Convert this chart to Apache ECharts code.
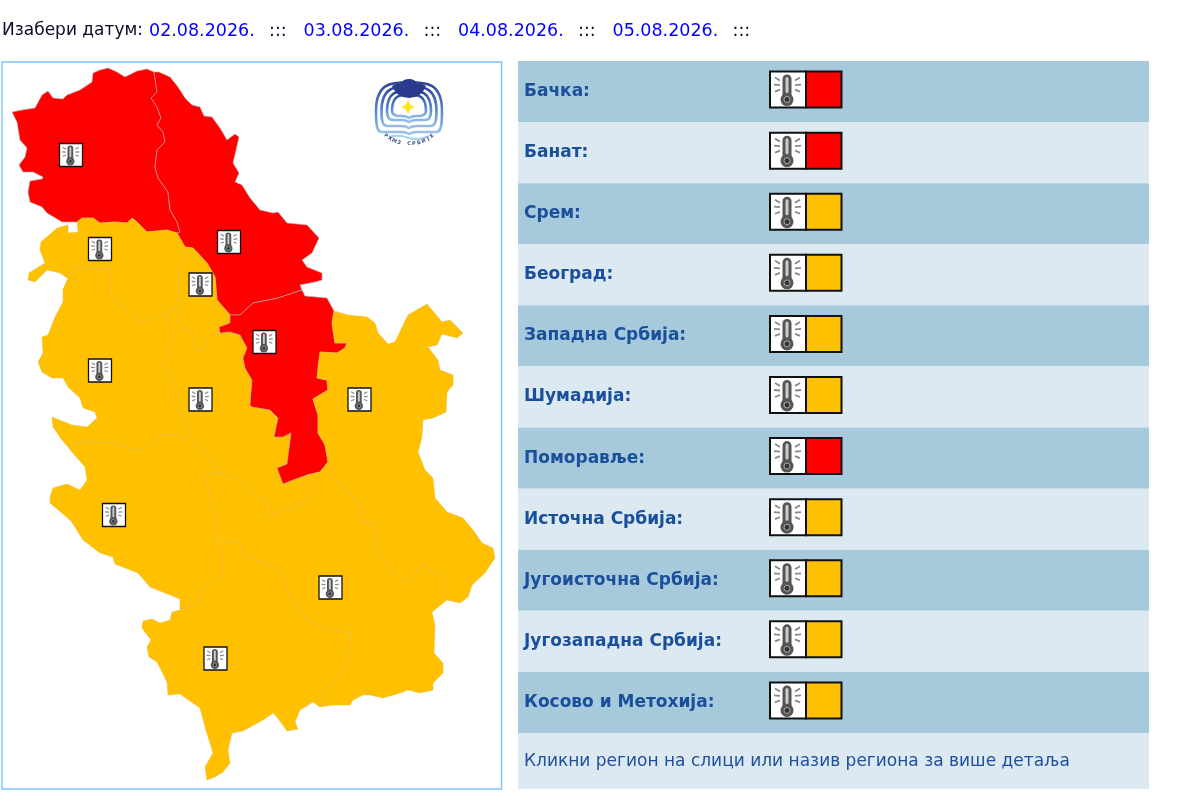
<!DOCTYPE html>
<html>
<head>
<meta charset="utf-8">
<title>Упозорења</title>
<script src="https://cdn.jsdelivr.net/npm/echarts@6/dist/echarts.min.js"></script>
<style>
  html, body { margin: 0; padding: 0; background: #fff; }
  #main { width: 1200px; height: 804px; }
</style>
</head>
<body>
<div id="main"></div>
<script>
// ---- data ----
var dateLabel = 'Изабери датум:';
var dates = ['02.08.2026.', '03.08.2026.', '04.08.2026.', '05.08.2026.'];
var footerText = 'Кликни регион на слици или назив региона за више детаља';
var regions = ['Бачка', 'Банат', 'Срем', 'Београд', 'Западна Србија', 'Шумадија', 'Поморавље', 'Источна Србија', 'Југоисточна Србија', 'Југозападна Србија', 'Косово и Метохија'];
// 3 = red, 2 = orange
var levels = [3, 3, 2, 2, 2, 2, 3, 2, 2, 2, 2];
var levelColors = { 2: '#ffc000', 3: '#ff0000' };
// where the thermometer of each region sits, in map units
var iconPoints = [[71, 155], [229, 242], [100, 249], [200.5, 284.5], [100, 370.5], [200.5, 399.5], [264.5, 342], [359.5, 399.5], [330.5, 587.5], [114, 515], [215.5, 658.5]];
var logoPoint = [[409, 108]];

// map outline, as shared border pieces (map units, y going down)
var bacOuter = [[154,72],[147,69],[137,71],[125,77],[117,72],[108,68],[100,70],[93,73],[92,82],[80,90],[67,95],[63,99],[53,98],[48,91],[42,95],[35,108],[22,110],[12,112],[17,122],[20,140],[27,148],[25,157],[19,165],[23,172],[33,172],[43,177],[42,179],[30,181],[28,192],[30,202],[42,207],[47,213],[62,222],[77,222]];
var bacBan = [[154,72],[157,92],[151,98],[157,107],[161,118],[157,125],[163,132],[165,142],[157,150],[155,167],[158,178],[168,192],[170,210],[177,222],[180,232],[177,233]];
var bacSrem = [[77,222],[82,218],[93,218],[100,223],[115,222],[127,223],[132,218],[137,222],[147,232],[167,230],[177,233]];
var banOuter = [[154,72],[159,72],[170,77],[178,87],[185,98],[192,105],[200,107],[204,116],[212,117],[220,128],[227,140],[235,134],[239,137],[233,163],[239,173],[235,182],[242,185],[250,198],[260,210],[273,213],[278,212],[287,223],[307,225],[319,238],[312,253],[302,260],[307,267],[322,273],[322,280],[315,282],[300,285],[302,290]];
var banPom = [[302,290],[278,298],[253,303],[240,315],[230,315]];
var banBeo = [[230,315],[217,300],[215,277],[207,263],[193,248],[185,247]];
var sremBan = [[185,247],[177,233]];
var pomOuter = [[302,290],[305,296],[327,298],[334,311]];
var pomIst = [[334,311],[332,323],[335,343],[347,343],[345,348],[337,353],[320,352],[317,378],[327,380],[328,390],[313,399],[318,415],[318,433],[325,445],[328,462]];
var pomJi = [[328,462],[320,472],[307,475]];
var pomSum = [[307,475],[293,480],[283,484],[277,468],[287,464],[291,433],[283,437],[274,437],[278,418],[270,410],[252,407],[250,405],[252,380],[245,368],[243,358],[247,348],[240,335],[230,332],[220,333]];
var pomBeo = [[220,333],[219,327],[230,323],[230,315]];
var istOuter = [[334,311],[348,315],[367,317],[375,323],[378,333],[388,344],[395,342],[408,315],[427,304],[442,322],[450,320],[463,333],[457,338],[442,334],[437,345],[428,347],[438,360],[440,370],[453,375],[453,385],[447,392],[446,412],[433,418],[423,420],[422,437],[418,452],[425,470],[433,478],[435,498],[447,512],[463,518],[473,530],[482,543],[493,548],[495,558],[485,573],[472,585],[468,597],[460,603],[447,600]];
var istSouth = [[328,462],[333,475],[343,487],[360,503],[360,520],[375,525],[378,553],[395,575],[407,582],[423,565],[443,578],[443,593],[447,600]];
var jiOuter = [[447,600],[432,612],[435,625],[434,653],[443,663],[443,673],[433,683],[433,690],[420,693],[408,690],[400,693],[383,698],[370,695],[363,695],[353,700],[350,705],[333,705],[320,707]];
var kosOuter = [[320,707],[313,702],[300,710],[295,722],[298,729],[287,731],[277,717],[273,713],[263,720],[243,731],[232,733],[228,750],[230,763],[223,772],[215,777],[207,780],[205,767],[213,753],[205,727],[200,708],[180,694],[168,695],[167,682],[157,662],[149,657],[147,647],[151,640],[142,628],[143,621],[152,619],[160,623],[170,620],[172,612],[180,610]];
var kosJi = [[320,707],[327,688],[347,667],[352,633],[330,630],[307,620],[292,600],[277,568],[242,555],[240,543],[217,540]];
var kosJz = [[217,540],[222,553],[223,577],[200,590],[198,605],[180,610]];
var jzOuter = [[180,610],[180,599],[150,587],[138,573],[115,564],[113,557],[100,553],[83,540],[75,527],[70,520],[50,503],[50,497],[53,488],[67,484],[80,490],[87,480],[85,467],[72,452],[68,447]];
var jzZap = [[68,447],[87,441],[113,443],[137,450],[147,448],[160,435],[173,434],[189,440]];
var jzSum = [[189,440],[207,453],[218,472]];
var jzJi = [[218,472],[203,477],[213,503],[217,540]];
var sumJi = [[218,472],[233,477],[260,497],[267,500],[268,517],[283,510],[310,500],[310,480],[307,475]];
var sumBeo = [[220,333],[207,337],[207,348],[195,350],[192,332],[177,323],[180,307]];
var sumSrem = [[180,307],[168,310]];
var zapSum = [[168,310],[172,337],[163,365],[172,383],[170,393],[180,413],[188,427],[189,440]];
var beoSrem = [[180,307],[178,290],[178,267],[187,258],[185,247]];
var sremZap = [[168,310],[160,317],[140,322],[133,313],[112,300],[110,270],[73,267],[63,290]];
var sremOuter = [[63,290],[70,280],[60,273],[47,270],[35,282],[28,280],[29,273],[45,263],[40,250],[41,242],[57,228],[68,225],[68,233],[78,232],[77,222]];
var zapOuter = [[68,447],[62,440],[53,427],[52,417],[72,425],[87,427],[97,418],[95,412],[83,408],[80,398],[68,387],[63,378],[52,378],[42,372],[38,362],[43,353],[42,337],[48,335],[55,317],[63,302],[63,290]];

function rev(a) { return a.slice().reverse(); }
var rings = [
  [bacOuter, bacSrem, rev(bacBan)],
  [banOuter, banPom, banBeo, sremBan, rev(bacBan)],
  [bacSrem, rev(sremBan), rev(beoSrem), sumSrem, sremZap, sremOuter],
  [rev(banBeo), rev(pomBeo), sumBeo, beoSrem],
  [rev(sremZap), zapSum, rev(jzZap), zapOuter],
  [jzSum, sumJi, pomSum, sumBeo, sumSrem, zapSum],
  [pomOuter, pomIst, pomJi, pomSum, pomBeo, rev(banPom)],
  [istOuter, rev(istSouth), rev(pomIst)],
  [jiOuter, kosJi, rev(jzJi), sumJi, rev(pomJi), istSouth],
  [jzOuter, jzZap, jzSum, jzJi, kosJz],
  [kosOuter, rev(kosJz), rev(kosJi)]
];

var geoJson = {
  type: 'FeatureCollection',
  features: regions.map(function (name, i) {
    var ring = [].concat.apply([], rings[i]).map(function (p) { return [p[0], -p[1]]; });
    ring.push(ring[0]);
    return { type: 'Feature', properties: { name: name }, geometry: { type: 'Polygon', coordinates: [ring] } };
  })
};
echarts.registerMap('srbija', geoJson);

// ---- thermometer icon, drawn in a 36x36 box ----
function thermometer() {
  var rays = 'M5 6L10 9M4 13L10 13.5M5 20L10 18M30 6L25 9M31 13L25 13.5M30 20L25 18';
  return [
    { type: 'rect', shape: { x: 0, y: 0, width: 36, height: 36 }, style: { fill: '#fff', stroke: '#111', lineWidth: 2 } },
    { type: 'path', shape: { pathData: rays }, style: { fill: null, stroke: '#888', lineWidth: 1.8 } },
    { type: 'rect', shape: { x: 12.5, y: 3, width: 9, height: 25, r: 4.5 }, style: { fill: '#555' } },
    { type: 'circle', shape: { cx: 17, cy: 28, r: 6.5 }, style: { fill: '#555' } },
    { type: 'rect', shape: { x: 15.5, y: 5.5, width: 3, height: 16, r: 1.5 }, style: { fill: '#ccc' } },
    { type: 'circle', shape: { cx: 17, cy: 28, r: 3 }, style: { fill: '#333', stroke: '#aaa', lineWidth: 1 } }
  ];
}

function renderMapIcon(params, api) {
  var pt = api.coord([api.value(0), -api.value(1)]);
  var s = 23 / 36;
  return {
    type: 'group',
    x: pt[0] - 11.5,
    y: pt[1] - 11.5,
    scaleX: s,
    scaleY: s,
    children: thermometer()
  };
}

function renderCell(params, api) {
  var pt = api.coord([252, api.value(0)]);
  var color = levelColors[api.value(1)];
  return {
    type: 'group',
    x: pt[0],
    y: pt[1] - 20,
    children: [
      { type: 'group', children: thermometer() },
      { type: 'rect', shape: { x: 36, y: 0, width: 35.5, height: 36 }, style: { fill: color, stroke: '#111', lineWidth: 2 } }
    ]
  };
}

// ---- logo ----
function logoRing(r, yb) {
  var t = -r * 0.78;
  return 'M' + (-r) + ' 3C' + (-r) + ' ' + t + ' ' + (-r * 0.5) + ' ' + t + ' 0 ' + t +
    'C' + (r * 0.5) + ' ' + t + ' ' + r + ' ' + t + ' ' + r + ' 3' +
    'C' + r + ' ' + (yb - 3) + ' ' + (r - 2) + ' ' + yb + ' ' + (r - 6) + ' ' + yb +
    'L8 ' + yb + 'Q3 ' + yb + ' 0 ' + (yb + 2) + 'Q-3 ' + yb + ' -8 ' + yb + 'L' + (6 - r) + ' ' + yb +
    'C' + (2 - r) + ' ' + yb + ' ' + (-r) + ' ' + (yb - 3) + ' ' + (-r) + ' 3';
}

function renderLogo(params, api) {
  var pt = api.coord([api.value(0), -api.value(1)]);
  var grad = new echarts.graphic.LinearGradient(0, 0, 0, 1, [
    { offset: 0, color: '#2a3c90' },
    { offset: 0.6, color: '#5f8fd0' },
    { offset: 1, color: '#a4cbee' }
  ]);
  var out = [];
  [[33, 24], [27.5, 18], [22, 12], [17, 8]].forEach(function (r) {
    out.push({ type: 'path', shape: { pathData: logoRing(r[0], r[1]) }, style: { fill: null, stroke: grad, lineWidth: 2.6 } });
  });
  out.push({ type: 'path', shape: { pathData: 'M-17 -22Q-13 -25 -9 -24Q-6 -29 0 -29Q6 -29 9 -24Q13 -25 17 -22Q12 -10 0 -10Q-12 -10 -17 -22Z' }, style: { fill: '#2a3a8c' } });
  out.push({ type: 'path', shape: { pathData: 'M-1 -8L1.5 -3L6 -1L1.5 1L-1 6L-3.5 1L-8 -1L-3.5 -3Z' }, style: { fill: '#ffe21a' } });
  out.push({ type: 'path', shape: { pathData: 'M-20 29Q-10 26 0 30Q10 33 20 28' }, style: { fill: null, stroke: '#a8d0f0', lineWidth: 2 } });
  'РХМЗ СРБИЈЕ'.split('').forEach(function (ch, i) {
    var a = (i - 5) * 0.135;
    out.push({
      type: 'text', x: Math.sin(a) * 37, y: Math.cos(a) * 37 - 1, rotation: a,
      style: { text: ch, fontSize: 5, fontWeight: 'bold', fontFamily: 'DejaVu Sans', fill: '#444f80', align: 'center', verticalAlign: 'middle' }
    });
  });
  return { type: 'group', x: pt[0], y: pt[1], children: out };
}

// ---- header and footer text ----
var labelFont = { fontSize: 17, fontFamily: 'DejaVu Sans', verticalAlign: 'middle' };
var dateFont = { fontSize: 17.5, fontFamily: 'DejaVu Sans', verticalAlign: 'middle' };
var graphics = [
  { type: 'text', x: 2, y: 31, style: Object.assign({ text: dateLabel, fill: '#0a0a2a' }, labelFont) },
  { type: 'rect', shape: { x: 2, y: 62, width: 499.5, height: 727 }, style: { fill: null, stroke: '#7cc6ff', lineWidth: 1.4 } },
  { type: 'rect', shape: { x: 518, y: 733, width: 631, height: 56 }, style: { fill: '#dce9f1' } },
  { type: 'text', x: 524, y: 762, style: { text: footerText, fontSize: 17, fontFamily: 'DejaVu Sans', fill: '#1f4f9e', verticalAlign: 'middle' } }
];
dates.forEach(function (d, i) {
  graphics.push({ type: 'text', x: 149 + i * 154.5, y: 31, style: Object.assign({ text: d, fill: '#0000ff' }, dateFont) });
  graphics.push({ type: 'text', x: 269 + i * 154.5, y: 31, style: Object.assign({ text: ':::', fill: '#0a0a2a' }, dateFont) });
});

var myChart = echarts.init(document.getElementById('main'), null, { renderer: 'canvas' });
var option = {
  animation: false,
  backgroundColor: '#fff',
  graphic: graphics,
  geo: {
    map: 'srbija',
    roam: false,
    silent: true,
    aspectScale: 1,
    left: 2,
    top: 61,
    width: 500,
    height: 728,
    boundingCoords: [[2, -61], [502, -789]],
    label: { show: false },
    itemStyle: { borderWidth: 1 },
    regions: regions.map(function (name, i) {
      return {
        name: name,
        itemStyle: {
          areaColor: levelColors[levels[i]],
          borderColor: levels[i] === 3 ? 'rgba(190,170,170,0.6)' : 'rgba(235,190,70,0.5)',
          borderWidth: 1
        }
      };
    })
  },
  grid: { left: 518, top: 61, width: 631, height: 672 },
  xAxis: { type: 'value', min: 0, max: 631, show: false },
  yAxis: {
    type: 'category',
    inverse: true,
    data: regions,
    axisLine: { show: false },
    axisTick: { show: false },
    splitLine: { show: false },
    splitArea: { show: true, interval: 0, areaStyle: { color: ['#a6c9dc', '#dce9f1'] } },
    axisLabel: {
      inside: true,
      margin: 6,
      interval: 0,
      fontSize: 17,
      fontWeight: 'bold',
      fontFamily: 'DejaVu Sans',
      color: '#1a4f9c',
      padding: [4, 0, 0, 0],
      formatter: function (v) { return v + ':'; }
    }
  },
  series: [
    {
      type: 'custom',
      coordinateSystem: 'geo',
      geoIndex: 0,
      silent: true,
      renderItem: renderMapIcon,
      data: iconPoints,
      z: 5
    },
    {
      type: 'custom',
      coordinateSystem: 'geo',
      geoIndex: 0,
      silent: true,
      renderItem: renderLogo,
      data: logoPoint,
      z: 5
    },
    {
      type: 'custom',
      coordinateSystem: 'cartesian2d',
      silent: true,
      renderItem: renderCell,
      encode: { x: 2, y: 0 },
      data: levels.map(function (l, i) { return [i, l, 252]; }),
      z: 5
    }
  ]
};
myChart.setOption(option);
</script>
</body>
</html>
